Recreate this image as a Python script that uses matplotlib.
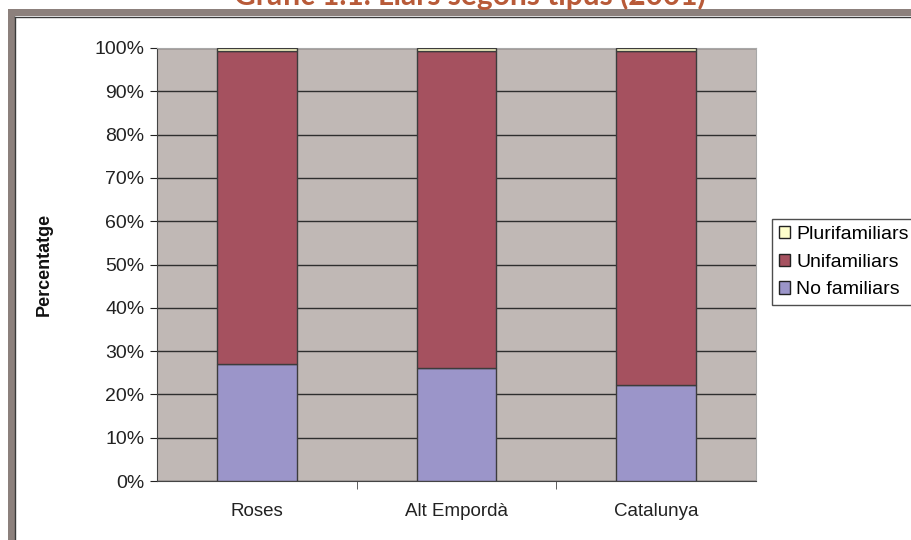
import matplotlib
matplotlib.use('Agg')
import matplotlib.pyplot as plt
from matplotlib.patches import Rectangle, Patch
from matplotlib.ticker import PercentFormatter

categories = ['Roses', 'Alt Empordà', 'Catalunya']
no_familiars = [27.0, 26.0, 22.2]
unifamiliars = [72.4, 73.4, 77.2]
plurifamiliars = [0.6, 0.6, 0.6]

c_no = '#9b95c9'
c_uni = '#a5515f'
c_pluri = '#ffffcc'
edge = '#3c3c3c'

plt.rcParams['font.family'] = ['Liberation Sans', 'DejaVu Sans']

fig = plt.figure(figsize=(9.12, 5.40), dpi=100)
W, H = 912, 540

# outer frame (partly cut off, like the source)
frame_col = '#8c807c'
fig.add_artist(Rectangle((8 / W, 0), 7 / W, 1 - 9 / H, transform=fig.transFigure,
                         facecolor=frame_col, edgecolor='none'))
fig.add_artist(Rectangle((8 / W, 1 - 16 / H), 1 - 8 / W, 7 / H, transform=fig.transFigure,
                         facecolor=frame_col, edgecolor='none'))
fig.add_artist(plt.Line2D([15 / W, 1], [1 - 16.5 / H, 1 - 16.5 / H], transform=fig.transFigure,
                          color='#3a3a3a', lw=1))
fig.add_artist(plt.Line2D([15.5 / W, 15.5 / W], [0, 1 - 16.5 / H], transform=fig.transFigure,
                          color='#3a3a3a', lw=1))

fig.text(470 / W, 1 - 5 / H, 'Gràfic 1.1. Llars segons tipus (2001)', ha='center',
         va='baseline', fontsize=21.5, fontweight='bold', color='#b85a38', family='Lato')

ax = fig.add_axes([157 / W, (H - 481) / H, (756 - 157) / W, (481 - 48) / H])
ax.set_facecolor('#c0b8b5')

x = range(len(categories))
bw = 0.4
ax.bar(x, no_familiars, bw, color=c_no, edgecolor=edge, lw=1, zorder=3)
ax.bar(x, unifamiliars, bw, bottom=no_familiars, color=c_uni, edgecolor=edge, lw=1, zorder=3)
bottom2 = [a + b for a, b in zip(no_familiars, unifamiliars)]
ax.bar(x, plurifamiliars, bw, bottom=bottom2, color=c_pluri, edgecolor=edge, lw=1, zorder=3)

ax.set_xlim(-0.5, len(categories) - 0.5)
ax.set_ylim(0, 100)
ax.set_yticks(range(0, 101, 10))
ax.yaxis.set_major_formatter(PercentFormatter(decimals=0))
ax.yaxis.grid(True, color='#2e2e2e', lw=1, zorder=1)
ax.set_xticks(list(x))
ax.set_xticklabels(categories)
ax.set_xticks([0.5, 1.5], minor=True)
ax.tick_params(axis='x', which='major', length=0, pad=16, labelsize=13.5, colors='#222222')
ax.tick_params(axis='x', which='minor', length=6, direction='out', color='#444444')
ax.tick_params(axis='y', length=5, direction='out', labelsize=14, colors='#222222', pad=4)

for s in ['top', 'right']:
    ax.spines[s].set_color('#a8a8a8')
for s in ['left', 'bottom']:
    ax.spines[s].set_color('#444444')

ax.set_ylabel('Percentatge', fontsize=13, fontweight='bold', labelpad=30, color='#111111')

handles = [Patch(facecolor=c_pluri, edgecolor='#222222', label='Plurifamiliars'),
           Patch(facecolor=c_uni, edgecolor='#222222', label='Unifamiliars'),
           Patch(facecolor=c_no, edgecolor='#222222', label='No familiars')]
leg = fig.legend(handles=handles, loc='upper left', bbox_to_anchor=(772 / W, 1 - 219 / H),
                 fontsize=14, frameon=True, fancybox=False, borderpad=0.35,
                 handlelength=0.6, handleheight=0.6, handletextpad=0.3, labelspacing=0.55,
                 borderaxespad=0)
leg.get_frame().set_edgecolor('#222222')
leg.get_frame().set_linewidth(1)

fig.savefig('out.png', dpi=100)
